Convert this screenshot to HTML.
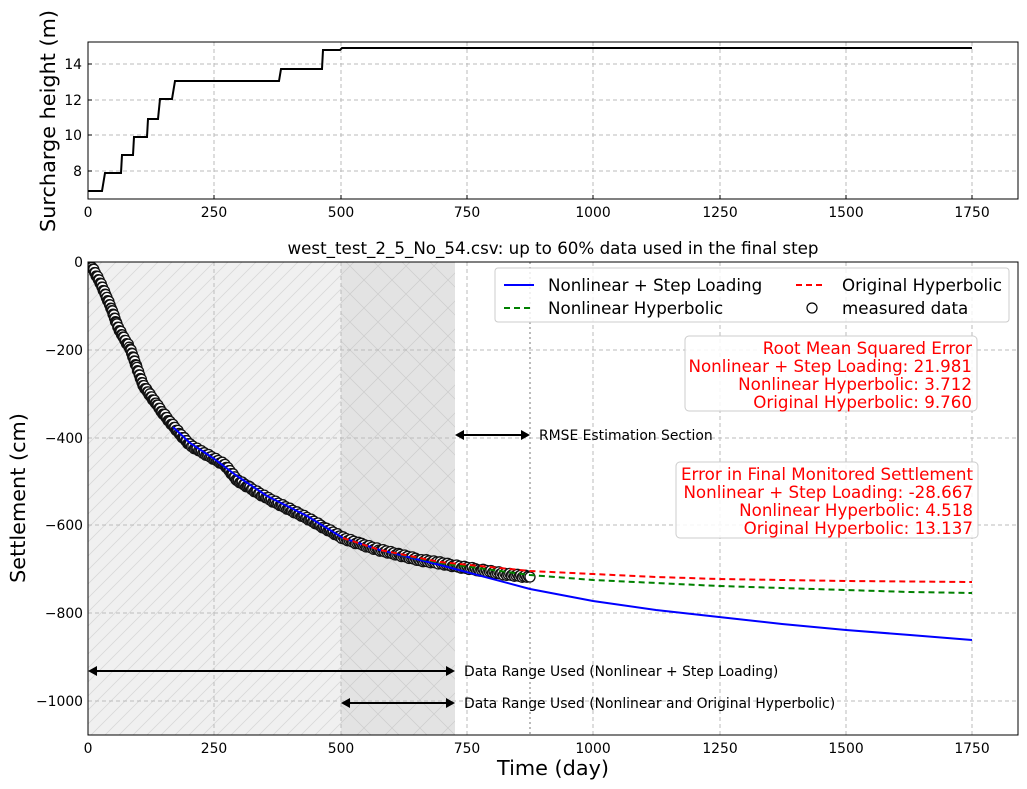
<!DOCTYPE html>
<html><head><meta charset="utf-8"><style>
body{margin:0;background:#fff;}
svg{display:block;font-family:"DejaVu Sans","Liberation Sans",sans-serif;}
</style></head><body>
<svg id="s" width="1027" height="789" viewBox="0 0 1027 789" xmlns="http://www.w3.org/2000/svg">
<defs>
<pattern id="h1" patternUnits="userSpaceOnUse" width="14" height="14"><path d="M0,14 L14,0 M-2,2 L2,-2 M12,16 L16,12" stroke="#d8d8d8" stroke-width="0.8"/></pattern>
<pattern id="h2" patternUnits="userSpaceOnUse" width="28" height="28"><path d="M0,28 L28,0 M0,0 L28,28" stroke="#cfcfcf" stroke-width="0.8"/></pattern>
<clipPath id="cb"><rect x="88" y="262" width="930" height="473"/></clipPath>
</defs>
<!-- top axes -->
<g stroke="#bbb" stroke-dasharray="4,3" stroke-width="1">
<line x1="214" y1="42" x2="214" y2="199"/><line x1="341" y1="42" x2="341" y2="199"/><line x1="467" y1="42" x2="467" y2="199"/><line x1="593" y1="42" x2="593" y2="199"/><line x1="720" y1="42" x2="720" y2="199"/><line x1="846" y1="42" x2="846" y2="199"/><line x1="972" y1="42" x2="972" y2="199"/>
<line x1="88" y1="64" x2="1018" y2="64"/><line x1="88" y1="100" x2="1018" y2="100"/><line x1="88" y1="135" x2="1018" y2="135"/><line x1="88" y1="171" x2="1018" y2="171"/>
</g>
<g stroke="#000" stroke-width="1">
<path d="M88,199v-4M214,199v-4M341,199v-4M467,199v-4M593,199v-4M720,199v-4M846,199v-4M972,199v-4M88,64h4M88,100h4M88,135h4M88,171h4"/>
<path d="M88,735v-4M214,735v-4M341,735v-4M467,735v-4M593,735v-4M720,735v-4M846,735v-4M972,735v-4M88,262h4M88,350h4M88,438h4M88,525h4M88,613h4M88,701h4"/>
</g>
<polyline fill="none" stroke="#000" stroke-width="2" points="88,191 102,191 105,173 121,173 122,155 133,155 134,137 147,137 148,119 158,119 160,99 172,99 175,81 279,81 281,69 322,69 323,50 340,50 342,48 972,48"/>
<rect x="88" y="42" width="930" height="157" fill="none" stroke="#000" stroke-width="1"/>
<g font-size="13.9" fill="#000">
<text x="82" y="69" text-anchor="end">14</text><text x="82" y="105" text-anchor="end">12</text><text x="82" y="140" text-anchor="end">10</text><text x="82" y="176" text-anchor="end">8</text>
<g text-anchor="middle"><text x="88" y="217">0</text><text x="214" y="217">250</text><text x="341" y="217">500</text><text x="467" y="217">750</text><text x="593" y="217">1000</text><text x="720" y="217">1250</text><text x="846" y="217">1500</text><text x="972" y="217">1750</text></g>
</g>
<text x="55" y="121" font-size="20.8" text-anchor="middle" transform="rotate(-90 55 121)">Surcharge height (m)</text>

<!-- bottom axes -->
<rect x="88" y="262" width="367" height="473" fill="#f0f0f0"/>
<rect x="88" y="262" width="367" height="473" fill="url(#h1)"/>
<rect x="341" y="262" width="114" height="473" fill="#e3e3e3"/>
<rect x="341" y="262" width="114" height="473" fill="url(#h2)"/>
<g stroke="#bbb" stroke-dasharray="4,3" stroke-width="1">
<line x1="214" y1="262" x2="214" y2="735"/><line x1="341" y1="262" x2="341" y2="735"/><line x1="467" y1="262" x2="467" y2="735"/><line x1="593" y1="262" x2="593" y2="735"/><line x1="720" y1="262" x2="720" y2="735"/><line x1="846" y1="262" x2="846" y2="735"/><line x1="972" y1="262" x2="972" y2="735"/>
<line x1="88" y1="350" x2="1018" y2="350"/><line x1="88" y1="438" x2="1018" y2="438"/><line x1="88" y1="525" x2="1018" y2="525"/><line x1="88" y1="613" x2="1018" y2="613"/><line x1="88" y1="701" x2="1018" y2="701"/>
</g>
<line x1="530" y1="262" x2="530" y2="735" stroke="#bbb" stroke-dasharray="2,3" stroke-width="2"/>
<g clip-path="url(#cb)" fill="none" stroke-width="2">
<g id="pts"></g>
<polyline stroke="#00f" points="173,427 190,443 213,458 237,476 267,496 307,516 343,538 380,550 440,565 455,569 530,589 593,601 656,610 719,617 782,624 846,630 910,635 972,640"/>
<polyline stroke="#008000" stroke-dasharray="6,4" points="343,538 380,550 440,563 530,575 593,580 656,583 719,586 782,588 846,590 910,592 972,593"/>
<polyline stroke="#f00" stroke-dasharray="6,4" points="343,538 380,550 440,562 530,571 593,574 656,577 719,579 782,580 846,581 910,581.5 972,582"/>
</g>
<rect x="88" y="262" width="930" height="473" fill="none" stroke="#000" stroke-width="1"/>
<g font-size="13.9" fill="#000">
<text x="83" y="267" text-anchor="end">0</text><text x="83" y="355" text-anchor="end">−200</text><text x="83" y="443" text-anchor="end">−400</text><text x="83" y="530" text-anchor="end">−600</text><text x="83" y="618" text-anchor="end">−800</text><text x="83" y="706" text-anchor="end">−1000</text>
<g text-anchor="middle"><text x="88" y="753">0</text><text x="214" y="753">250</text><text x="341" y="753">500</text><text x="467" y="753">750</text><text x="593" y="753">1000</text><text x="720" y="753">1250</text><text x="846" y="753">1500</text><text x="972" y="753">1750</text></g>
</g>
<text x="553" y="254" font-size="16.7" text-anchor="middle">west_test_2_5_No_54.csv: up to 60% data used in the final step</text>
<text x="553" y="775" font-size="20.8" text-anchor="middle">Time (day)</text>
<text x="25" y="498" font-size="20.8" text-anchor="middle" transform="rotate(-90 25 498)">Settlement (cm)</text>

<!-- arrows -->
<g stroke="#000" stroke-width="2" fill="#000">
<line x1="462" y1="435" x2="523" y2="435"/><path d="M455,435 l9,-5 v10z" stroke="none"/><path d="M530,435 l-9,-5 v10z" stroke="none"/>
<line x1="95" y1="671" x2="448" y2="671"/><path d="M88,671 l9,-5 v10z" stroke="none"/><path d="M455,671 l-9,-5 v10z" stroke="none"/>
<line x1="348" y1="703" x2="448" y2="703"/><path d="M341,703 l9,-5 v10z" stroke="none"/><path d="M455,703 l-9,-5 v10z" stroke="none"/>
</g>
<g font-size="13.9"><text x="539" y="440">RMSE Estimation Section</text><text x="464" y="676">Data Range Used (Nonlinear + Step Loading)</text><text x="464" y="708">Data Range Used (Nonlinear and Original Hyperbolic)</text></g>

<!-- legend -->
<rect x="495" y="268" width="514" height="54" rx="3" fill="#fff" fill-opacity="0.8" stroke="#ccc"/>
<g font-size="16.7">
<line x1="504" y1="285" x2="534" y2="285" stroke="#00f" stroke-width="2"/><text x="548" y="291">Nonlinear + Step Loading</text>
<line x1="504" y1="308" x2="534" y2="308" stroke="#008000" stroke-width="2" stroke-dasharray="6,4"/><text x="548" y="314">Nonlinear Hyperbolic</text>
<line x1="796" y1="285" x2="826" y2="285" stroke="#f00" stroke-width="2" stroke-dasharray="6,4"/><text x="842" y="291">Original Hyperbolic</text>
<circle cx="812" cy="308" r="5" fill="#fff" stroke="#000" stroke-width="1.2"/><text x="842" y="314">measured data</text>
</g>
<rect x="685" y="336" width="292" height="75" rx="4" fill="#fff" fill-opacity="0.85" stroke="#ccc"/>
<g font-size="16.7" fill="#f00" text-anchor="end">
<text x="972" y="354">Root Mean Squared Error</text><text x="972" y="372">Nonlinear + Step Loading: 21.981</text><text x="972" y="390">Nonlinear Hyperbolic: 3.712</text><text x="972" y="408">Original Hyperbolic: 9.760</text>
</g>
<rect x="676" y="462" width="302" height="76" rx="4" fill="#fff" fill-opacity="0.85" stroke="#ccc"/>
<g font-size="16.7" fill="#f00" text-anchor="end">
<text x="973" y="480">Error in Final Monitored Settlement</text><text x="973" y="498">Nonlinear + Step Loading: -28.667</text><text x="973" y="516">Nonlinear Hyperbolic: 4.518</text><text x="973" y="534">Original Hyperbolic: 13.137</text>
</g>
</svg>
<script>
(function(){
var p=[[90,266],[93,269],[100,282],[107,298],[112,310],[117,325],[123,337],[130,348],[137,368],[143,385],[150,395],[157,405],[163,413],[170,422],[180,434],[190,445],[200,451],[213,458],[225,465],[237,480],[250,488],[267,498],[287,508],[307,518],[325,528],[343,538],[360,544],[380,550],[400,555],[420,560],[440,563],[455,566],[480,570],[505,574],[530,577]];
var g=document.getElementById('pts'),ns='http://www.w3.org/2000/svg';
function C(x,y){var c=document.createElementNS(ns,'circle');c.setAttribute('cx',x.toFixed(1));c.setAttribute('cy',y.toFixed(1));c.setAttribute('r','5');c.setAttribute('fill','#fff');c.setAttribute('stroke','#111');c.setAttribute('stroke-width','1.3');g.appendChild(c);}
for(var i=0;i<p.length-1;i++){var a=p[i],b=p[i+1],d=Math.hypot(b[0]-a[0],b[1]-a[1]),n=Math.max(1,Math.round(d/1.6));
for(var k=0;k<n;k++){var t=k/n;C(a[0]+(b[0]-a[0])*t,a[1]+(b[1]-a[1])*t+((i*7+k*3)%5-2)*0.6);}}
C(530,577);
})();
</script>
</body></html>
